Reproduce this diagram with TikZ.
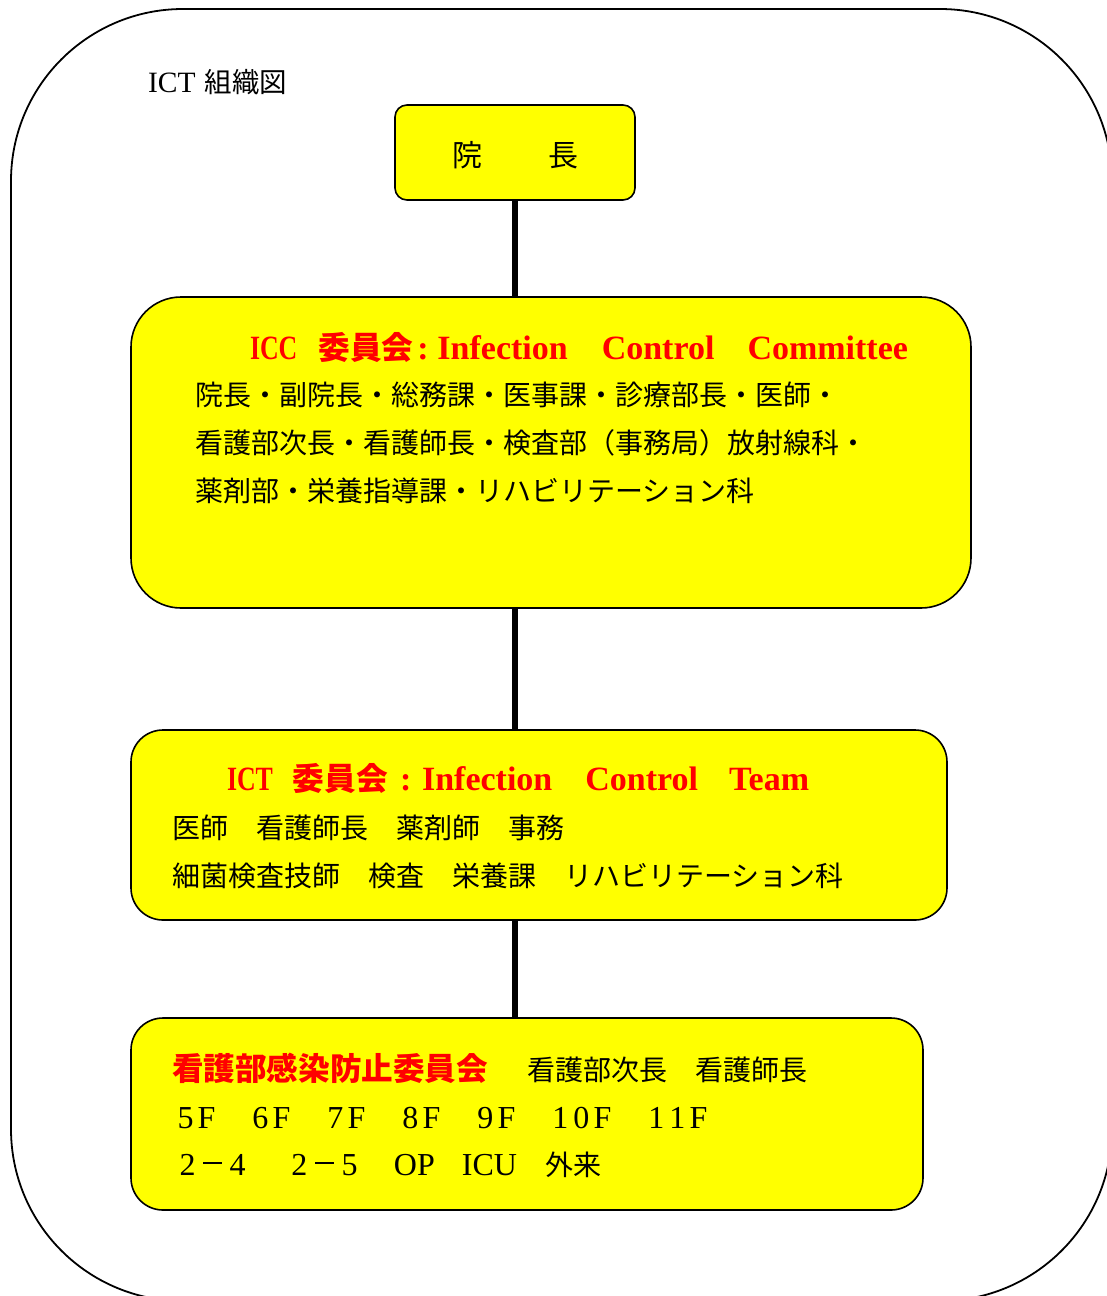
\documentclass[tikz,border=0pt]{standalone}
\usepackage{fontspec}
\usepackage{graphicx}
\setmainfont{Liberation Serif}
\newfontfamily\jp{Noto Sans CJK JP}
\definecolor{boxyellow}{RGB}{255,255,0}
\definecolor{titlered}{RGB}{255,0,0}
\newcommand\fs[1]{\fontsize{#1}{#1}\selectfont}
\newcommand\fwc[2]{\makebox[#1pt]{#2}}
\newcommand\mns{\rule[11pt]{19pt}{1.8pt}}
\begin{document}
\begin{tikzpicture}[x=1pt,y=-1pt,
  box/.style={draw=black, line width=1.6pt, fill=boxyellow, inner sep=0pt, outer sep=0pt, anchor=north west},
  conn/.style={line width=6pt, black},
  txt/.style={anchor=base west, inner sep=0pt, outer sep=0pt},
  jptxt/.style={txt, font=\jp\fs{28}},
  outerframe/.style={draw=black, line width=1.8pt, rounded corners=172pt}]
\useasboundingbox (0,0) rectangle (1107,1296);
\begin{scope}
\clip (0,0) rectangle (1107,1296);
\draw[outerframe] (11,9) rectangle (1112,1301);
\end{scope}

\node[txt] (label) at (148,92) {\fs{29.5}ICT\hspace{9pt}{\jp\fs{27.5}組織図}};

\node[box, rounded corners=12pt, minimum width=240pt, minimum height=95pt] (head) at (395,105) {};
\node[box, rounded corners=50pt, minimum width=840pt, minimum height=311pt] (icc) at (131,297) {};
\node[box, rounded corners=32pt, minimum width=816pt, minimum height=190pt] (ict) at (131,730) {};
\node[box, rounded corners=32pt, minimum width=792pt, minimum height=192pt] (ward) at (131,1018) {};

\draw[conn] (head.south) -- (head.south |- icc.north);
\draw[conn] (head.south |- icc.south) -- (head.south |- ict.north);
\draw[conn] (head.south |- ict.south) -- (head.south |- ward.north);

\node[inner sep=0pt, font=\jp\fs{30}] (headt) at (515,155) {院\hspace{66pt}長};

\node[txt, text=titlered] (icct) at (250,359) {\fs{34}\bfseries\scalebox{0.76}[1]{ICC}\hspace{21pt}{\jp\fs{31.7}委員会}\hspace{4pt}:\hspace{8.7pt}Infection\hspace{34pt}Control\hspace{33pt}Committee};
\node[jptxt] (icc1) at (195,405.5) {院長・副院長・総務課・医事課・診療部長・医師・};
\node[jptxt] (icc2) at (195,453.5) {看護部次長・看護師長・検査部（事務局）放射線科・};
\node[jptxt] (icc3) at (195,501.5) {薬剤部・栄養指導課・リハビリテーション科};

\node[txt, text=titlered] (ictt) at (227,790) {\fs{34}\bfseries\scalebox{0.76}[1]{ICT}\hspace{20pt}{\jp\fs{31.7}委員会}\hspace{12pt}:\hspace{10.7pt}Infection\hspace{33pt}Control\hspace{31pt}Team};
\node[jptxt] (ict1) at (172,838.5) {医師　看護師長　薬剤師　事務};
\node[jptxt] (ict2) at (172,886.5) {細菌検査技師　検査　栄養課　リハビリテーション科};

\node[txt] (wardt) at (172,1080) {{\jp\bfseries\fs{31.6}\color{titlered}看護部感染防止委員会}\hspace{39pt}{\jp\fs{28}看護部次長　看護師長}};
\node[txt] (floors) at (175,1128) {\fs{32}\fwc{21}{5}\fwc{21}{F}\hspace{33pt}\fwc{21}{6}\fwc{21}{F}\hspace{33pt}\fwc{21}{7}\fwc{21}{F}\hspace{33pt}\fwc{21}{8}\fwc{21}{F}\hspace{33pt}\fwc{21}{9}\fwc{21}{F}\hspace{33pt}\fwc{21}{1}\fwc{21}{0}\fwc{21}{F}\hspace{33pt}\fwc{21}{1}\fwc{21}{1}\fwc{21}{F}};
\node[txt] (units) at (175,1175) {\fs{32}\fwc{25}{2}\fwc{25}{\mns}\fwc{25}{4}\hspace{37pt}\fwc{25}{2}\fwc{25}{\mns}\fwc{25}{5}\hspace{32pt}OP\hspace{27pt}ICU\hspace{28pt}{\jp\fs{28}外来}};
\end{tikzpicture}
\end{document}
